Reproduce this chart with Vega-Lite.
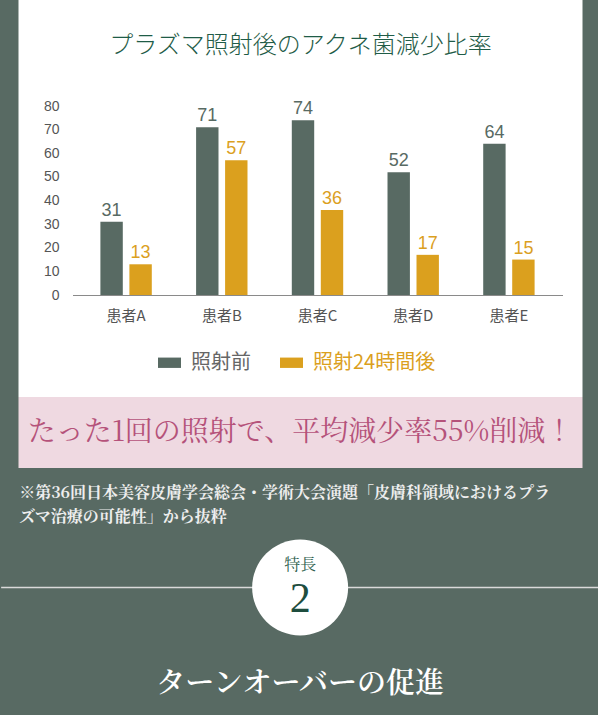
{
  "$schema": "https://vega.github.io/schema/vega-lite/v6.json",
  "background": "#586A63",
  "padding": {"left": 0, "right": 0, "top": 0, "bottom": 8},
  "spacing": 0,
  "center": true,
  "config": {"view": {"stroke": null}},
  "datasets": {
    "bars": [
      {"patient": "患者A", "timing": "照射前", "value": 31},
      {"patient": "患者A", "timing": "照射24時間後", "value": 13},
      {"patient": "患者B", "timing": "照射前", "value": 71},
      {"patient": "患者B", "timing": "照射24時間後", "value": 57},
      {"patient": "患者C", "timing": "照射前", "value": 74},
      {"patient": "患者C", "timing": "照射24時間後", "value": 36},
      {"patient": "患者D", "timing": "照射前", "value": 52},
      {"patient": "患者D", "timing": "照射24時間後", "value": 17},
      {"patient": "患者E", "timing": "照射前", "value": 64},
      {"patient": "患者E", "timing": "照射24時間後", "value": 15}
    ]
  },
  "vconcat": [
    {
      "width": 564,
      "height": 397,
      "view": {"fill": "#FFFFFF", "stroke": null},
      "layer": [
        {
          "data": {"name": "bars"},
          "mark": {"type": "bar"},
          "encoding": {
            "x": {
              "field": "patient", "type": "nominal",
              "scale": {"range": [54, 544], "paddingInner": 0.463, "paddingOuter": 0.2915},
              "axis": {
                "orient": "bottom", "offset": -102, "title": null, "ticks": false, "tickSize": 0,
                "labelPadding": 13, "labelAngle": 0, "labelFont": "Noto Sans CJK JP", "labelFontSize": 15,
                "labelColor": "#555555", "domainColor": "#8a8a8a", "domainWidth": 1, "grid": false
              }
            },
            "xOffset": {
              "field": "timing", "type": "nominal",
              "scale": {"domain": ["照射前", "照射24時間後"], "paddingInner": 0.2276, "paddingOuter": 0}
            },
            "y": {
              "field": "value", "type": "quantitative",
              "scale": {"domain": [0, 80], "range": [295, 106], "nice": false, "zero": true},
              "axis": {
                "orient": "left", "offset": -40.5, "values": [0, 10, 20, 30, 40, 50, 60, 70, 80],
                "title": null, "domain": false, "ticks": false, "tickSize": 0, "labelPadding": 0,
                "labelFont": "Liberation Sans", "labelFontSize": 14, "labelColor": "#555555", "grid": false
              }
            },
            "color": {
              "field": "timing", "type": "nominal",
              "scale": {"domain": ["照射前", "照射24時間後"], "range": ["#586A63", "#DBA01E"]},
              "legend": {
                "title": null, "orient": "none", "direction": "horizontal",
                "legendX": 157, "legendY": 351, "padding": 0,
                "symbolType": "M-1,-0.45H1V0.45H-1Z", "symbolSize": 529, "symbolStrokeWidth": 0, "symbolOpacity": 1,
                "labelOffset": 10, "columnPadding": 29,
                "labelFont": "Noto Sans CJK JP", "labelFontSize": 20, "labelLimit": 300,
                "encode": {"labels": {"update": {"fill": {"signal": "datum.value === '照射前' ? '#666666' : '#DBA01E'"}}}}
              }
            }
          }
        },
        {
          "data": {"name": "bars"},
          "mark": {"type": "text", "baseline": "alphabetic", "dy": -6, "font": "Liberation Sans", "fontSize": 18},
          "encoding": {
            "x": {"field": "patient", "type": "nominal"},
            "xOffset": {"field": "timing", "type": "nominal"},
            "y": {"field": "value", "type": "quantitative"},
            "text": {"field": "value", "type": "quantitative"},
            "color": {"field": "timing", "type": "nominal"}
          }
        },
        {
          "data": {"values": [{"label": "プラズマ照射後のアクネ菌減少比率"}]},
          "mark": {"type": "text", "align": "center", "baseline": "middle", "dy": -153, "font": "Noto Sans CJK JP", "fontSize": 24, "fontWeight": 300, "color": "#1F5C47"},
          "encoding": {"text": {"field": "label"}}
        }
      ]
    },
    {
      "width": 564,
      "height": 71,
      "view": {"fill": "#EFD9E1", "stroke": null},
      "data": {"values": [{"msg": "たった1回の照射で、平均減少率55%削減！"}]},
      "mark": {"type": "text", "align": "center", "baseline": "middle", "font": "Noto Serif CJK JP, Noto Sans CJK JP", "fontSize": 28, "color": "#B5527A"},
      "encoding": {"text": {"field": "msg"}}
    },
    {
      "width": 598,
      "height": 239,
      "layer": [
        {
          "data": {"values": [{"k": 0}]},
          "mark": {"type": "rule", "color": "#DADADA", "strokeWidth": 1.5},
          "encoding": {"y": {"datum": 0, "type": "quantitative", "scale": {"domain": [-1, 1]}, "axis": null}}
        },
        {
          "data": {"values": [{"k": 0}]},
          "mark": {"type": "point", "shape": "circle", "filled": true, "color": "#FFFFFF", "opacity": 1, "size": 9216, "strokeWidth": 0},
          "encoding": {}
        },
        {
          "data": {"values": [{"label": "特長"}]},
          "mark": {"type": "text", "align": "center", "baseline": "middle", "dy": -23, "font": "Noto Serif CJK JP, Noto Sans CJK JP", "fontSize": 16, "color": "#2E5F4E"},
          "encoding": {"text": {"field": "label"}}
        },
        {
          "data": {"values": [{"label": "2"}]},
          "mark": {"type": "text", "align": "center", "baseline": "middle", "dy": 11, "font": "Liberation Serif", "fontSize": 42, "color": "#1E4D3E"},
          "encoding": {"text": {"field": "label"}}
        },
        {
          "data": {"values": [{"label": ["※第36回日本美容皮膚学会総会・学術大会演題「皮膚科領域におけるプラ", "ズマ治療の可能性」から抜粋"]}]},
          "mark": {"type": "text", "align": "left", "baseline": "middle", "dx": -281, "dy": -94.5, "lineHeight": 24, "font": "Noto Serif CJK JP, Noto Sans CJK JP", "fontSize": 16, "fontWeight": "bold", "color": "#EEEEEE"},
          "encoding": {"text": {"field": "label"}}
        },
        {
          "data": {"values": [{"label": "ターンオーバーの促進"}]},
          "mark": {"type": "text", "align": "center", "baseline": "middle", "dy": 96.5, "font": "Noto Serif CJK JP, Noto Sans CJK JP", "fontSize": 29, "fontWeight": 600, "color": "#FFFFFF"},
          "encoding": {"text": {"field": "label"}}
        }
      ]
    }
  ]
}
